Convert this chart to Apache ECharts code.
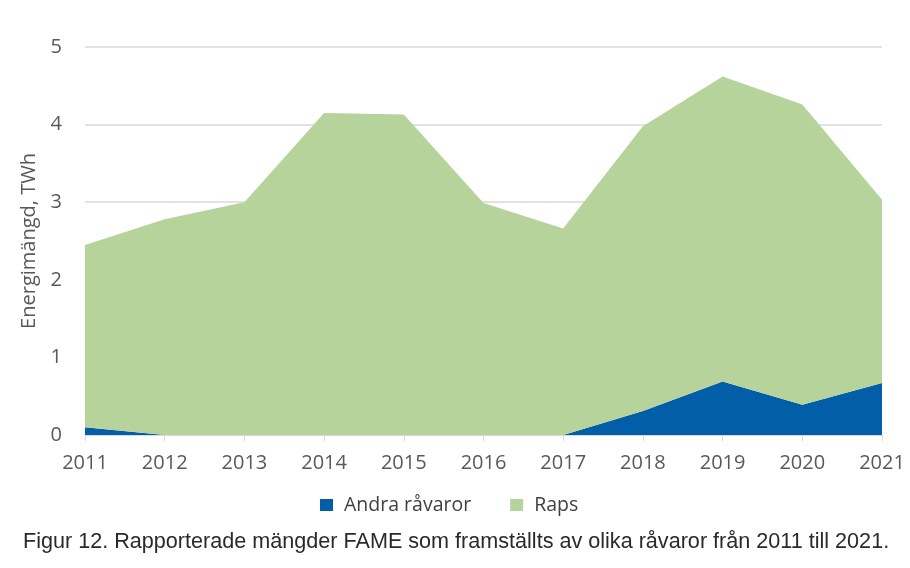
<!DOCTYPE html>
<html lang="sv">
<head>
  <meta charset="UTF-8">
  <title>FAME</title>
  <style>
    * { margin: 0; padding: 0; }
    body { background: #ffffff; }
    #main { width: 910px; height: 568px; }
  </style>
</head>
<body>
  <div id="main"></div>
  <script src="https://cdn.jsdelivr.net/npm/echarts@6/dist/echarts.min.js"></script>
  <script>
    // årtal och värden (TWh)
    var years = ['2011', '2012', '2013', '2014', '2015', '2016', '2017', '2018', '2019', '2020', '2021'];
    var andra = [0.10, 0, 0, 0, 0, 0, 0, 0.31, 0.69, 0.39, 0.67];
    var raps = [2.35, 2.78, 3.00, 4.15, 4.13, 2.99, 2.66, 3.67, 3.93, 3.87, 2.36];
    var yTicks = [0, 1, 2, 3, 4, 5];

    var chart = echarts.init(document.getElementById('main'));
    var labelFont = '"Open Sans", "Noto Sans", sans-serif';

    chart.setOption({
      animation: false,
      title: {
        text: 'Figur 12. Rapporterade mängder FAME som framställts av olika råvaror från 2011 till 2021.',
        left: 18,
        top: 526,
        textStyle: { fontFamily: '"Liberation Sans", Arial, sans-serif', fontSize: 21.6, fontWeight: 'normal', color: '#2a2a2a' }
      },
      legend: {
        data: ['Andra råvaror', 'Raps'],
        top: 490,
        left: 315,
        itemWidth: 13,
        itemHeight: 12,
        itemGap: 39,
        icon: 'rect',
        textStyle: { fontFamily: labelFont, fontSize: 19.5, color: '#404040', padding: [0, 0, 0, 6] }
      },
      grid: { left: 85, right: 28, top: 47, bottom: 133 },
      xAxis: {
        type: 'category',
        boundaryGap: false,
        data: years,
        axisLine: { lineStyle: { color: '#d9d9d9' } },
        axisTick: { show: true, length: 6, lineStyle: { color: '#d9d9d9' } },
        axisLabel: { fontFamily: labelFont, fontSize: 20, color: '#595959', margin: 18 }
      },
      yAxis: {
        type: 'value',
        min: yTicks[0],
        max: yTicks[yTicks.length - 1],
        interval: 1,
        name: 'Energimängd, TWh',
        nameLocation: 'middle',
        nameGap: 46,
        nameTextStyle: { fontFamily: labelFont, fontSize: 20, color: '#595959' },
        axisLine: { show: false },
        axisTick: { show: false },
        splitLine: { lineStyle: { color: '#d9d9d9', width: 1.5 } },
        axisLabel: { fontFamily: labelFont, fontSize: 20, color: '#595959', margin: 23 }
      },
      series: [
        {
          name: 'Andra råvaror',
          type: 'line',
          stack: 'tot',
          data: andra,
          symbol: 'none',
          itemStyle: { color: '#035ea8' },
          lineStyle: { width: 0 },
          areaStyle: { color: '#035ea8', opacity: 1 }
        },
        {
          name: 'Raps',
          type: 'line',
          stack: 'tot',
          data: raps,
          symbol: 'none',
          itemStyle: { color: '#b5d39a' },
          lineStyle: { width: 0 },
          areaStyle: { color: '#b5d39a', opacity: 1 }
        }
      ]
    });
  </script>
</body>
</html>
